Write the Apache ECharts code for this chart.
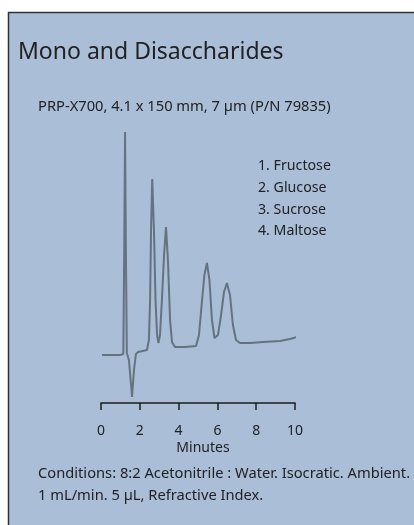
<!DOCTYPE html>
<html>
<head>
<meta charset="utf-8">
<script src="https://cdn.jsdelivr.net/npm/echarts@6/dist/echarts.min.js"></script>
<style>
  html, body { margin: 0; padding: 0; background: #fff; }
  #chart { width: 414px; height: 525px; }
</style>
</head>
<body>
<div id="chart"></div>
<script>
// retention time (min) and detector response
const minutes = [0.05, 0.98, 1.15, 1.20, 1.24, 1.28, 1.33, 1.44, 1.55, 1.60, 1.70, 1.80, 1.91,
  2.37, 2.47, 2.53, 2.58, 2.64, 2.73, 2.81, 2.89, 2.96, 3.04, 3.14, 3.25, 3.35, 3.45, 3.56,
  3.66, 3.81, 4.33, 4.90, 5.05, 5.21, 5.33, 5.46, 5.59, 5.72, 5.85, 5.93, 6.03, 6.19, 6.34,
  6.49, 6.65, 6.80, 6.96, 7.16, 7.68, 8.35, 9.23, 9.74, 10.1]
const signal = [48, 48, 49, 160, 271, 160, 50, 43, 18, 6, 33, 49, 51,
  53, 63, 103, 173, 224, 173, 103, 68, 60, 68, 103, 148, 176, 143, 83,
  61, 56, 56, 57, 68, 103, 128, 140, 123, 83, 65, 63, 68, 88, 111,
  120, 108, 78, 63, 60, 60, 61, 62, 64, 66]

// peak apex times, their labels and the compound list
const peakTimes = [2.64, 3.35, 5.46, 6.49]
const peakLabels = ['1', '2', '3', '4']
const compounds = ['1. Fructose', '2. Glucose', '3. Sucrose', '4. Maltose']
const xTicks = [0, 2, 4, 6, 8, 10]

const title = 'Mono and Disaccharides'
const column = 'PRP-X700, 4.1 x 150 mm, 7 µm (P/N 79835)'
const conditions = ['Conditions: 8:2 Acetonitrile : Water. Isocratic. Ambient.',
  '1 mL/min. 5 µL, Refractive Index.']

const font = '"Noto Sans", sans-serif'
const ink = '#222'

const chart = echarts.init(document.getElementById('chart'))

const lineData = minutes.map((t, i) => {
  const p = peakTimes.indexOf(t)
  if (p < 0) return [t, signal[i]]
  return {
    value: [t, signal[i]],
    label: {
      show: true,
      position: 'top',
      distance: [8, 4, 6, 4][p],
      formatter: peakLabels[p],
      fontFamily: font,
      fontSize: 14,
      color: ink
    }
  }
})

const option = {
  backgroundColor: '#fff',
  animation: false,
  grid: {
    left: 101,
    right: 119,
    top: 128,
    bottom: 122
  },
  xAxis: {
    type: 'value',
    min: 0,
    max: 10,
    interval: 2,
    splitLine: { show: false },
    axisLine: { lineStyle: { color: '#1e1e1e', width: 1.5 } },
    axisTick: { length: 7, lineStyle: { color: '#1e1e1e', width: 1.5 } },
    axisLabel: {
      margin: 21,
      fontFamily: font,
      fontSize: 14,
      color: ink,
      formatter: v => xTicks.includes(v) ? String(v) : ''
    }
  },
  yAxis: {
    type: 'value',
    show: false,
    min: 0,
    max: 275
  },
  series: [
    {
      type: 'line',
      data: lineData,
      showSymbol: false,
      symbol: 'none',
      lineStyle: { color: '#65737e', width: 2 },
      z: 3
    }
  ],
  graphic: [
    {
      type: 'rect',
      shape: { x: 8.5, y: 12.5, width: 420, height: 530 },
      style: { fill: '#aabed8', stroke: '#333', lineWidth: 1.5 },
      z: -10
    },
    {
      type: 'text',
      x: 18,
      y: 52,
      style: { text: title, font: '23px ' + font, fill: ink, verticalAlign: 'middle' }
    },
    {
      type: 'text',
      x: 38,
      y: 107,
      style: { text: column, font: '14.7px ' + font, fill: ink, verticalAlign: 'middle' }
    },
    ...compounds.map((c, i) => ({
      type: 'text',
      x: 258,
      y: 166 + i * 21.8,
      style: { text: c, font: '14.2px ' + font, fill: ink, verticalAlign: 'middle' }
    })),
    {
      type: 'text',
      x: 203,
      y: 448,
      style: { text: 'Minutes', font: '14px ' + font, fill: ink, align: 'center', verticalAlign: 'middle' }
    },
    ...conditions.map((c, i) => ({
      type: 'text',
      x: 38,
      y: 474 + i * 21.5,
      style: { text: c, font: '14.7px ' + font, fill: ink, verticalAlign: 'middle' }
    }))
  ]
}
chart.setOption(option)
</script>
</body>
</html>
